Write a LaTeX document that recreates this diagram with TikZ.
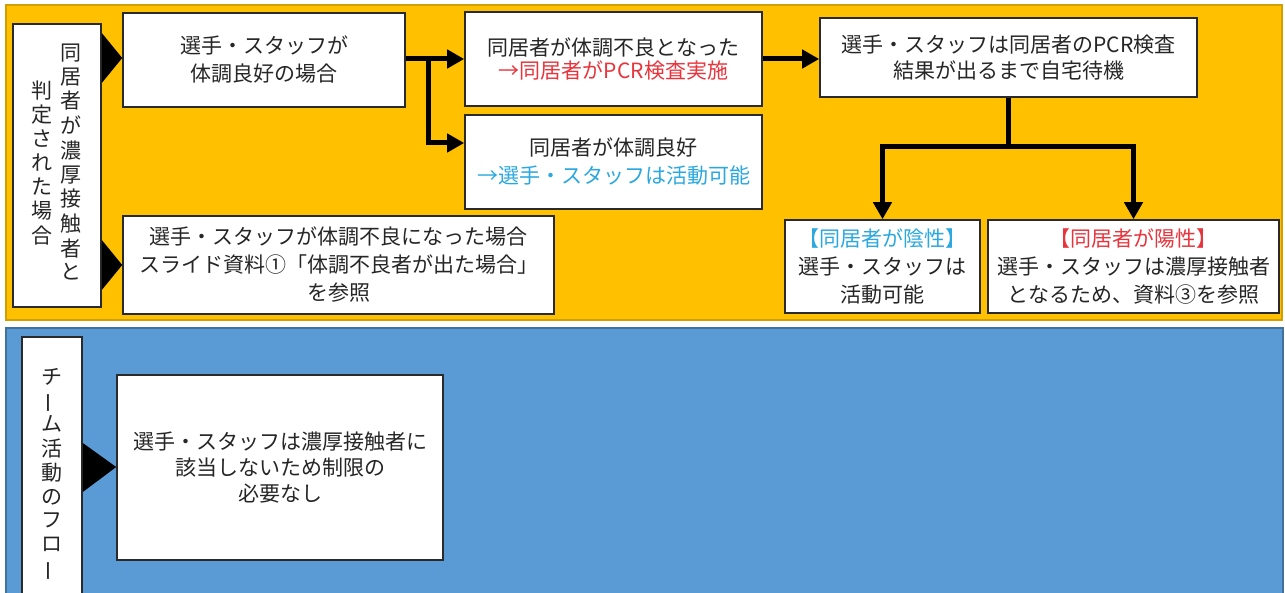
\documentclass[tikz,border=0pt]{standalone}
\usepackage{fontspec}
\usepackage{graphicx}
\setmainfont{Noto Sans CJK JP}
\usetikzlibrary{arrows.meta}
\definecolor{panelorange}{HTML}{FFC000}
\definecolor{panelorangeedge}{HTML}{D29E00}
\definecolor{panelblue}{HTML}{5B9BD5}
\definecolor{panelblueedge}{HTML}{41719C}
\definecolor{txtred}{HTML}{E8343C}
\definecolor{txtblue}{HTML}{2AA8DF}
\definecolor{boxedge}{HTML}{2A2A2A}
\newcommand\vcolumn[1]{\begin{tabular}[c]{@{}c@{}}#1\end{tabular}}
\newcommand\vbar{\rotatebox[origin=c]{90}{ー}}
\begin{document}
\begin{tikzpicture}[x=0.5pt,y=-0.5pt,
  box/.style={draw=boxedge, fill=white, line width=0.8pt, align=center, inner sep=0pt,
    font=\fontsize{10.5pt}{14pt}\selectfont, text=black!85},
  vlabel/.style={draw=boxedge, fill=white, line width=0.8pt, inner sep=0pt,
    font=\fontsize{10.5pt}{11.8pt}\selectfont, text=black!85},
  pointer/.style={fill=black},
  conn/.style={line width=2.5pt, line join=miter, black},
  arr/.style={conn, -{Triangle[length=8.5pt,width=9pt]}}
]
\useasboundingbox (0,0) rectangle (1285,593);
\fill[white] (0,0) rectangle (1285,593);
% panels
\filldraw[fill=panelorange, draw=panelorangeedge, line width=0.6pt] (6,5) rectangle (1282,320);
\filldraw[fill=panelblue, draw=panelblueedge, line width=0.6pt] (6,328) rectangle (1283,600);

% labels
\node[vlabel, minimum width=44pt, minimum height=141.5pt] (L1) at (57,165.5)
  {\raisebox{-2pt}{\vcolumn{判\\定\\さ\\れ\\た\\場\\合}}\hspace{4pt}\raisebox{-2pt}{\vcolumn{同\\居\\者\\が\\濃\\厚\\接\\触\\者\\と}}};
\node[vlabel, minimum width=30pt, minimum height=138pt] (L2) at (52,475)
  {\vcolumn{チ\\\vbar\\ム\\活\\動\\の\\フ\\ロ\\\vbar}};

% boxes
\node[box, minimum width=141pt, minimum height=47pt] (A) at (264,60)
  {選手・スタッフが\\体調良好の場合};
\node[box, minimum width=215.5pt, minimum height=49pt] (B) at (338.5,265)
  {選手・スタッフが体調不良になった場合\\スライド資料①「体調不良者が出た場合」\\を参照};
\node[box, minimum width=148.5pt, minimum height=47pt, font=\fontsize{10.5pt}{11.5pt}\selectfont] (C) at (613.5,59)
  {同居者が体調不良となった\\\textcolor{txtred}{→同居者がPCR検査実施}};
\node[box, minimum width=148.5pt, minimum height=47pt] (D) at (613.5,162)
  {同居者が体調良好\\\textcolor{txtblue}{→選手・スタッフは活動可能}};
\node[box, minimum width=188.5pt, minimum height=39.5pt, font=\fontsize{10.5pt}{13pt}\selectfont] (E) at (1008.5,57.5)
  {選手・スタッフは同居者のPCR検査\\結果が出るまで自宅待機};
\node[box, minimum width=97.5pt, minimum height=46.5pt] (F) at (882.5,266.5)
  {\textcolor{txtblue}{【同居者が陰性】}\\選手・スタッフは\\活動可能};
\node[box, minimum width=145.5pt, minimum height=46.5pt] (G) at (1133.5,266.5)
  {\textcolor{txtred}{【同居者が陽性】}\\選手・スタッフは濃厚接触者\\となるため、資料③を参照};
\node[box, minimum width=163pt, minimum height=92.5pt, font=\fontsize{10.5pt}{13pt}\selectfont] (H) at (280,467.5)
  {選手・スタッフは濃厚接触者に\\該当しないため制限の\\必要なし};

% pointers
\fill[pointer] (L1.east |- 0,33) -- (A.west |- 0,58) -- (L1.east |- 0,83) -- cycle;
\fill[pointer] (L1.east |- 0,240) -- (B.west) -- (L1.east |- 0,290) -- cycle;
\fill[pointer] (L2.east |- 0,443) -- (H.west |- 0,467) -- (L2.east |- 0,492) -- cycle;

% connectors
\coordinate (br) at (428,59);
\draw[arr] (A.east |- br) -- (br -| C.west);
\draw[arr] (br) |- ([yshift=9.5pt]D.west);
\draw[arr] (C.east) -- (C.east -| E.west);
\coordinate (j) at (1008.5,147);
\draw[arr] (E.south) -- (j) -| (F.north);
\draw[arr] (j) -| (G.north);
\end{tikzpicture}
\end{document}
